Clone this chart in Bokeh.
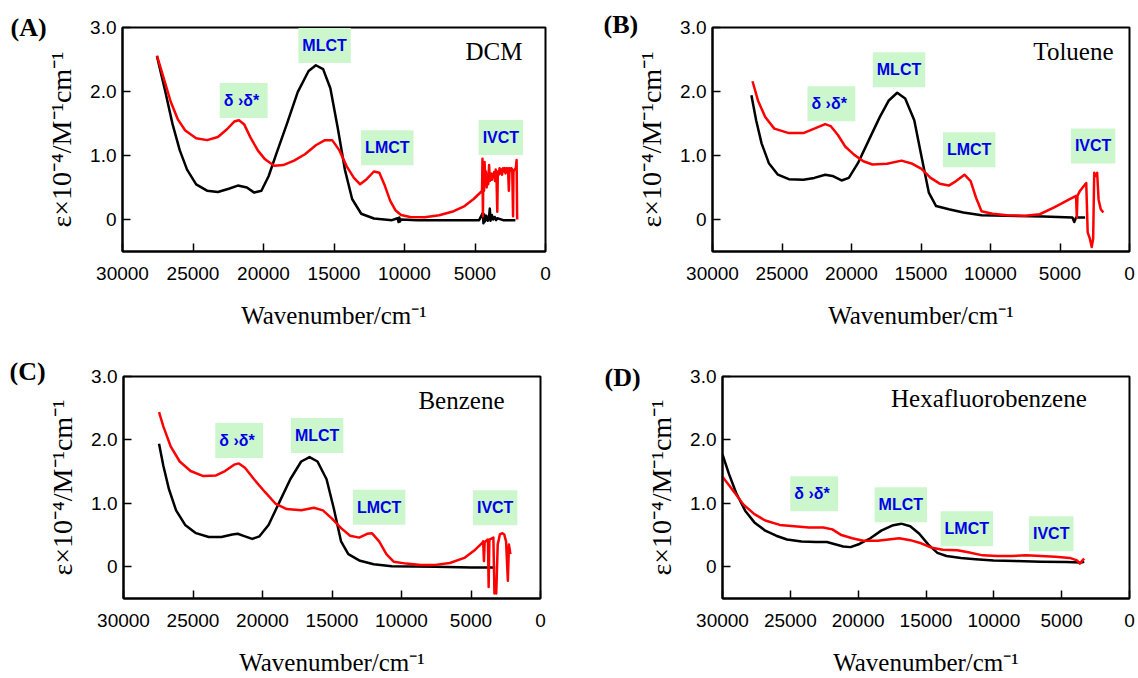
from bokeh.plotting import figure
from bokeh.layouts import column, row
from bokeh.models import Label, FixedTicker, Range1d
from bokeh.embed import file_html
from bokeh.resources import INLINE

# ---------------- data ----------------
x_ticks = [30000, 25000, 20000, 15000, 10000, 5000, 0]
x_tick_labels = ["30000", "25000", "20000", "15000", "10000", "5000", "0"]
y_ticks = [0, 1, 2, 3]
y_tick_labels = ["0", "1.0", "2.0", "3.0"]

panel_letters = ["(A)", "(B)", "(C)", "(D)"]
solvents = ["DCM", "Toluene", "Benzene", "Hexafluorobenzene"]
band_names = ["δ  ›δ*", "MLCT", "LMCT", "IVCT"]

# Panel A (DCM)
A_black_wn = [27557, 26966, 26450, 25936, 25421, 24777, 24005, 23234, 22462, 21819, 21176, 20661, 20147,
              19632, 19117, 18346, 17574, 16802, 16287, 15773, 15258, 14743, 14229, 13714, 13071, 12170,
              10884, 10500, 10420, 10370, 10320, 10250, 9083, 6510, 4709, 4450, 4400, 4350, 4300, 4200,
              4100, 4000, 3950, 3900, 3800, 3700, 3600, 3500, 3420, 3000, 2135]
A_black_eps = [2.55, 2.00, 1.49, 1.08, 0.78, 0.55, 0.45, 0.43, 0.48, 0.53, 0.50, 0.42, 0.45,
               0.68, 1.01, 1.49, 1.99, 2.32, 2.41, 2.35, 2.05, 1.44, 0.78, 0.32, 0.09, 0.015,
               -0.01, 0.02, -0.04, 0.03, -0.03, 0.0, -0.01, -0.01, -0.01, 0.10, -0.06, 0.08, -0.03, 0.06,
               -0.02, 0.05, 0.17, -0.02, 0.07, 0.0, 0.04, -0.01, 0.02, -0.01, -0.01]
A_red_wn = [27557, 27094, 26579, 26064, 25550, 24777, 24005, 23234, 22590, 22076, 21742, 21381, 20918,
            20404, 19889, 19246, 18603, 17831, 17059, 16287, 15644, 15130, 14615, 14100, 13586, 13148,
            12685, 12170, 11784, 11398, 11012, 10627, 10241, 9598, 8569, 7539, 6510, 5738, 5095, 4580,
            4500, 4470, 4440, 4400, 4360, 4320, 4270, 4220, 4170, 4120, 4060, 4000, 3950, 3900, 3850,
            3800, 3750, 3700, 3640, 3580, 3530, 3480, 3420, 3380, 3320, 3260, 3200, 3140, 3080, 3020,
            2960, 2900, 2840, 2780, 2720, 2660, 2600, 2550, 2480, 2420, 2360, 2300, 2270, 2200, 2100,
            2050, 2010]
A_red_eps = [2.56, 2.22, 1.84, 1.56, 1.39, 1.27, 1.24, 1.29, 1.41, 1.53, 1.55, 1.49, 1.28,
             1.08, 0.94, 0.84, 0.85, 0.92, 1.02, 1.16, 1.24, 1.24, 1.08, 0.83, 0.65, 0.55,
             0.63, 0.75, 0.73, 0.53, 0.29, 0.14, 0.07, 0.04, 0.036, 0.066, 0.13, 0.21, 0.32, 0.43,
             0.45, 0.95, 0.05, 0.85, 0.45, 0.90, 0.55, 0.75, 0.50, 0.70, 0.55, 0.85, 0.60, 0.65, 0.72,
             0.62, 0.70, 0.68, 0.74, 0.60, 0.78, 0.70, 0.12, 0.75, 0.70, 0.80, 0.72, 0.78, 0.70, 0.80,
             0.75, 0.80, 0.72, 0.80, 0.74, 0.80, 0.45, 0.80, 0.76, 0.80, 0.78, 0.05, 0.75, 0.78, 0.80,
             0.93, 0.0]

# Panel B (Toluene)
B_black_wn = [27201, 26861, 26469, 25946, 25292, 24507, 23461, 22677, 21892, 21369, 20715, 20192, 19538,
              18753, 17968, 17314, 16713, 16138, 15484, 14961, 14438, 13915, 12999, 11953, 10645, 8814,
              6199, 4106, 3975, 3845, 3191]
B_black_eps = [1.94, 1.55, 1.19, 0.88, 0.70, 0.63, 0.62, 0.65, 0.70, 0.68, 0.61, 0.65, 0.88,
               1.24, 1.60, 1.86, 1.98, 1.89, 1.55, 0.98, 0.42, 0.21, 0.16, 0.11, 0.067, 0.057,
               0.046, 0.03, -0.04, 0.03, 0.03]
B_red_wn = [27122, 26730, 26207, 25553, 24507, 23461, 22677, 21892, 21500, 20977, 20454, 19800, 19146,
            18492, 17446, 16400, 15615, 14961, 14307, 13653, 12999, 12476, 11875, 11430, 11038, 10645,
            9860, 8814, 7507, 6460, 5414, 4368, 3845, 3792, 3740, 3583, 3112, 3008, 2851, 2720, 2615,
            2537, 2406, 2328, 2223, 2066, 1883]
B_red_eps = [2.16, 1.86, 1.60, 1.42, 1.35, 1.35, 1.42, 1.49, 1.46, 1.32, 1.14, 1.01, 0.91,
             0.86, 0.87, 0.92, 0.87, 0.79, 0.65, 0.56, 0.53, 0.60, 0.70, 0.60, 0.34, 0.13,
             0.09, 0.067, 0.057, 0.082, 0.19, 0.31, 0.37, 0.03, 0.37, 0.44, 0.57, -0.20, -0.30, -0.43, -0.30,
             0.73, 0.68, 0.73, 0.31, 0.16, 0.11]

# Panel C (Benzene)
C_black_wn = [27443, 27130, 26739, 26217, 25565, 24783, 23870, 22957, 22174, 21783, 21261, 20739, 20217,
              19565, 18783, 18000, 17217, 16617, 16043, 15391, 14870, 14348, 13826, 13043, 12000, 10696,
              7565, 4957, 4174, 3261]
C_black_eps = [1.94, 1.59, 1.23, 0.89, 0.66, 0.53, 0.47, 0.47, 0.51, 0.52, 0.48, 0.44, 0.48,
               0.66, 1.02, 1.38, 1.66, 1.73, 1.66, 1.38, 0.92, 0.40, 0.20, 0.10, 0.04, 0.01,
               0.0, -0.01, -0.01, -0.01]
C_red_wn = [27443, 27130, 26609, 25957, 25174, 24261, 23348, 22696, 22043, 21704, 21261, 20609, 19826,
            19043, 18261, 17217, 16304, 15652, 15000, 14348, 13696, 13043, 12470, 12130, 11609, 11087,
            10565, 9652, 8609, 7565, 6522, 5478, 4696, 4174, 4122, 4070, 4017, 3783, 3730, 3678, 3391,
            3313, 3235, 3183, 3078, 2922, 2739, 2609, 2478, 2348, 2270, 2165]
C_red_eps = [2.44, 2.21, 1.90, 1.66, 1.51, 1.43, 1.44, 1.51, 1.61, 1.63, 1.56, 1.38, 1.18,
             0.99, 0.91, 0.89, 0.93, 0.89, 0.76, 0.61, 0.49, 0.46, 0.52, 0.53, 0.40, 0.20,
             0.08, 0.05, 0.03, 0.03, 0.06, 0.14, 0.27, 0.38, 0.40, 0.09, 0.39, 0.43, -0.32, 0.43, 0.46,
             -0.42, -0.40, -0.42, 0.35, 0.51, 0.53, 0.51, 0.40, -0.22, 0.35, 0.20]

# Panel D (Hexafluorobenzene)
D_black_wn = [30000, 29519, 28985, 28317, 27649, 26848, 26046, 25245, 24176, 23108, 22306, 21772, 21104,
              20570, 19902, 19101, 18299, 17498, 16830, 16162, 15494, 14826, 14158, 13491, 12422, 11353,
              10018, 8415, 6545, 4675, 3606, 3339]
D_black_eps = [1.77, 1.46, 1.16, 0.88, 0.70, 0.57, 0.49, 0.43, 0.40, 0.39, 0.39, 0.36, 0.32,
               0.31, 0.36, 0.45, 0.57, 0.65, 0.68, 0.64, 0.52, 0.35, 0.22, 0.17, 0.14, 0.12,
               0.10, 0.09, 0.08, 0.076, 0.066, 0.08]
D_red_wn = [30000, 29252, 28451, 27649, 26848, 25779, 24711, 23642, 22574, 21906, 21238, 20437, 19635,
            18567, 17765, 16964, 16162, 15361, 14559, 13758, 12689, 11888, 10819, 9751, 8682, 7613,
            6545, 5476, 4408, 3874, 3660, 3473, 3339]
D_red_eps = [1.42, 1.21, 0.98, 0.83, 0.73, 0.66, 0.64, 0.62, 0.62, 0.59, 0.50, 0.45, 0.41,
             0.41, 0.43, 0.45, 0.42, 0.37, 0.30, 0.27, 0.26, 0.23, 0.18, 0.17, 0.17, 0.18,
             0.17, 0.16, 0.14, 0.10, 0.05, 0.10, 0.13]

# annotation anchor positions (wavenumber, epsilon) for each band label, per panel
band_pos = [
    [(21406, 1.86), (15669, 2.72), (11218, 1.12), (3165, 1.28)],
    [(21447, 1.81), (16582, 2.34), (11534, 1.09), (2615, 1.15)],
    [(21678, 1.99), (16070, 2.07), (11609, 0.94), (3261, 0.93)],
    [(23241, 1.15), (16857, 0.98), (11995, 0.60), (5770, 0.52)],
]
solvent_pos = [(1631, 2.63), (1150, 2.63), (2590, 2.62), (3150, 2.65)]
# panel-letter placement: (horizontal offset from frame left, title standoff) in pixels
letter_offsets = [(-112, -28), (-109, -22), (-114, -18), (-118, -30)]

# layout: (width, height, left, right, top, bottom)
geoms = [
    (569, 339, 122, 24, 23, 88),
    (569, 339, 143, 9, 27, 87),
    (569, 339, 123, 29, 37, 76),
    (569, 339, 153, 9, 34, 75),
]

blacks = [(A_black_wn, A_black_eps), (B_black_wn, B_black_eps), (C_black_wn, C_black_eps), (D_black_wn, D_black_eps)]
reds = [(A_red_wn, A_red_eps), (B_red_wn, B_red_eps), (C_red_wn, C_red_eps), (D_red_wn, D_red_eps)]

SANS = "Liberation Sans"
SERIF = "Liberation Serif"


def make_panel(i):
    w, h, l, r, t, b = geoms[i]
    p = figure(width=w, height=h, x_range=Range1d(30000, 0), y_range=Range1d(-0.5, 3.0),
               output_backend="svg", toolbar_location=None, title=panel_letters[i],
               min_border_left=l, min_border_right=r, min_border_top=t, min_border_bottom=b)
    off, stand = letter_offsets[i]
    p.title.align = "left"
    p.title.offset = off
    p.title.standoff = stand
    p.title.vertical_align = "bottom"
    p.title.text_font = SERIF
    p.title.text_font_style = "bold"
    p.title.text_font_size = "26px"
    p.title.text_color = "black"

    p.xgrid.visible = False
    p.ygrid.visible = False
    p.outline_line_color = "black"
    p.outline_line_width = 2
    p.background_fill_color = "white"
    p.border_fill_color = "white"

    xa = p.xaxis[0]
    xa.ticker = FixedTicker(ticks=x_ticks)
    xa.major_label_overrides = dict(zip(x_ticks, x_tick_labels))
    ya = p.yaxis[0]
    ya.ticker = FixedTicker(ticks=y_ticks)
    ya.major_label_overrides = dict(zip(y_ticks, y_tick_labels))
    for ax in (xa, ya):
        ax.major_tick_in = 8
        ax.major_tick_out = 0
        ax.major_tick_line_width = 1.5
        ax.minor_tick_line_color = None
        ax.axis_line_width = 2
        ax.major_label_text_font = SANS
        ax.major_label_text_font_size = "19px"
        ax.major_label_text_color = "black"
        ax.axis_label_text_font = SERIF
        ax.axis_label_text_font_style = "normal"
        ax.axis_label_text_color = "black"
    xa.axis_label_text_font_size = "25px"
    ya.axis_label_text_font_size = "28px"
    xa.major_label_standoff = 15
    ya.major_label_standoff = 6
    xa.axis_label = "Wavenumber/cm⁻¹"
    ya.axis_label = "ε×10⁻⁴/M⁻¹cm⁻¹"
    xa.axis_label_standoff = 19
    ya.axis_label_standoff = 10

    bx, by = blacks[i]
    rx, ry = reds[i]
    p.line(bx, by, line_color="black", line_width=2.5, line_join="round")
    p.line(rx, ry, line_color="#ff0000", line_width=2.5, line_join="round")

    for name, (bxp, byp) in zip(band_names, band_pos[i]):
        p.add_layout(Label(x=bxp, y=byp, text=name, text_align="center", text_baseline="middle",
                           text_font=SANS, text_font_style="bold", text_font_size="16px",
                           text_color="#0000e6", background_fill_color="#ccf7cc",
                           padding=(4, 9)))

    sx, sy = solvent_pos[i]
    p.add_layout(Label(x=sx, y=sy, text=solvents[i], text_align="right", text_baseline="middle",
                       text_font=SERIF, text_font_size="25px", text_color="black"))
    return p


panels = [make_panel(i) for i in range(4)]
layout = column(row(panels[0], panels[1], spacing=0), row(panels[2], panels[3], spacing=0), spacing=0)

open("out.html", "w").write(file_html(layout, INLINE))
